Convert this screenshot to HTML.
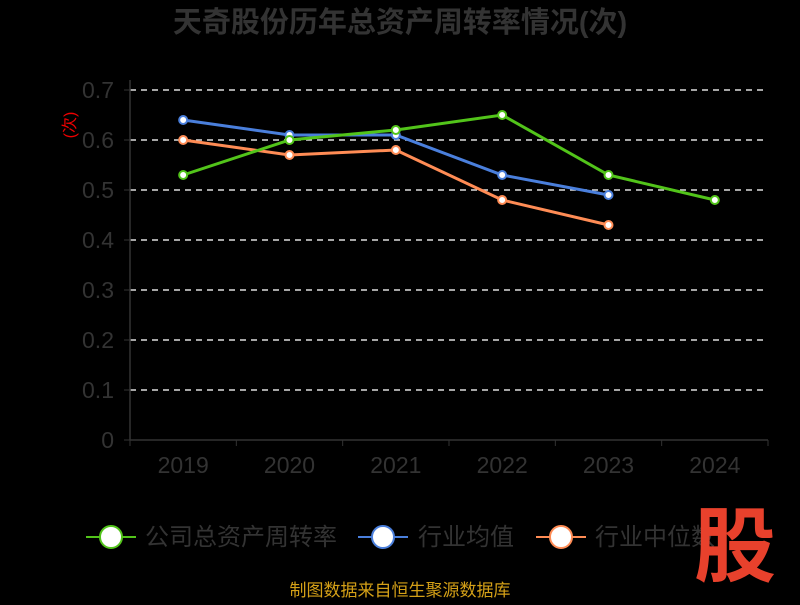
<!DOCTYPE html>
<html><head><meta charset="utf-8"><style>
body{margin:0;background:#000;width:800px;height:600px;overflow:hidden;font-family:"Liberation Sans","Noto Sans CJK SC",sans-serif}
</style></head><body>
<svg id="c" width="800" height="600" xmlns="http://www.w3.org/2000/svg">
<text x="400" y="32" text-anchor="middle" font-size="29" font-weight="bold" fill="#333" font-family="Liberation Sans,Noto Sans CJK SC,sans-serif">天奇股份历年总资产周转率情况(次)</text>
<text x="0" y="0" transform="translate(75,125) rotate(-90)" text-anchor="middle" font-size="16" fill="#e00" font-family="Liberation Sans,Noto Sans CJK SC,sans-serif">(次)</text>
<g id="grid"></g><g id="axes"></g><g id="series"></g>
<g font-family="Liberation Sans,Noto Sans CJK SC,sans-serif" font-size="24" fill="#333">
<g><line x1="86" y1="537" x2="136" y2="537" stroke="#52c41a" stroke-width="2"/><circle cx="111" cy="537" r="11" fill="#fff" stroke="#52c41a" stroke-width="2"/><text x="145" y="545">公司总资产周转率</text></g>
<g><line x1="358" y1="537" x2="408" y2="537" stroke="#4a7fdc" stroke-width="2"/><circle cx="383" cy="537" r="11" fill="#fff" stroke="#4a7fdc" stroke-width="2"/><text x="418" y="545">行业均值</text></g>
<g><line x1="536" y1="537" x2="586" y2="537" stroke="#ff8c55" stroke-width="2"/><circle cx="561" cy="537" r="11" fill="#fff" stroke="#ff8c55" stroke-width="2"/><text x="595" y="545">行业中位数</text></g>
</g>
<text x="735" y="575" text-anchor="middle" font-size="82" font-weight="bold" fill="#e8412c" font-family="Noto Sans CJK SC,sans-serif">股</text>
<text x="400" y="596" text-anchor="middle" font-size="17" fill="#d4a017" font-family="Liberation Sans,Noto Sans CJK SC,sans-serif">制图数据来自恒生聚源数据库</text>
</svg>
<script>
const categories=["2019","2020","2021","2022","2023","2024"];
const yTicks=[0,0.1,0.2,0.3,0.4,0.5,0.6,0.7];
const yTickLabels=["0","0.1","0.2","0.3","0.4","0.5","0.6","0.7"];
const companyValues=[0.53,0.60,0.62,0.65,0.53,0.48];
const industryMean=[0.64,0.61,0.61,0.53,0.49];
const industryMedian=[0.60,0.57,0.58,0.48,0.43];
const NS="http://www.w3.org/2000/svg";
const x0=130,x1=768,yb=440,yt=90,ymax=0.7;
const step=(x1-x0)/categories.length;
function xs(i){return x0+step*(i+0.5);}
function ys(v){return yb-(v/ymax)*(yb-yt);}
function mk(tag,attrs,parent){const e=document.createElementNS(NS,tag);for(const k in attrs)e.setAttribute(k,attrs[k]);parent.appendChild(e);return e;}
const grid=document.getElementById('grid'),axes=document.getElementById('axes'),ser=document.getElementById('series');
yTicks.forEach((t,i)=>{
 const y=ys(t);
 if(t>0){const l=mk('line',{x1:x0,x2:x1,y1:y,y2:y,stroke:'#ddd','stroke-width':1.5,'stroke-dasharray':'6,5'},grid);
 
 }
 mk('line',{x1:x0-6,x2:x0,y1:y,y2:y,stroke:'#333'},axes);
 const tx=mk('text',{x:x0-16,y:y+8,'text-anchor':'end','font-size':23,fill:'#333'},axes);
 tx.textContent=yTickLabels[i];
 
 
});
mk('line',{x1:x0,x2:x0,y1:yt-10,y2:yb,stroke:'#333','stroke-width':1.5},axes);
mk('line',{x1:x0,x2:x1,y1:yb,y2:yb,stroke:'#333','stroke-width':1.5},axes);
for(let i=0;i<=categories.length;i++){mk('line',{x1:x0+step*i,x2:x0+step*i,y1:yb,y2:yb+6,stroke:'#333'},axes);}
categories.forEach((c,i)=>{
 const tx=mk('text',{x:xs(i),y:yb+33,'text-anchor':'middle','font-size':23,fill:'#333'},axes);
 tx.textContent=c;
 
 
});
function drawSeries(vals,color,name){
 const g=mk('g',{},ser);
 
 
 const pts=vals.map((v,i)=>xs(i)+','+ys(v)).join(' ');
 mk('polyline',{points:pts,fill:'none',stroke:color,'stroke-width':3},g);
 vals.forEach((v,i)=>{
  const c=mk('circle',{cx:xs(i),cy:ys(v),r:4,fill:'#fff',stroke:color,'stroke-width':2},g);
  
  
 });
}
drawSeries(industryMedian,'#ff8c55','industry-median-line');
drawSeries(industryMean,'#4a7fdc','industry-mean-line');
drawSeries(companyValues,'#52c41a','company-turnover-line');
</script>
</body></html>
